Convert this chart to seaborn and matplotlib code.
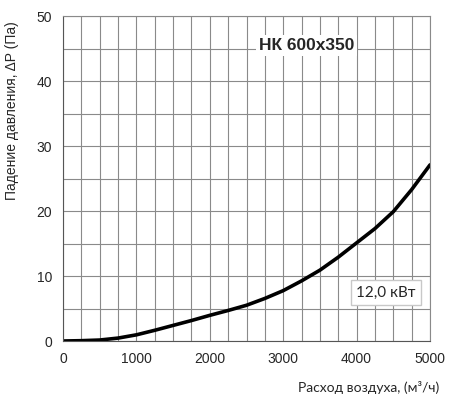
import numpy as np
import pandas as pd
import matplotlib
matplotlib.use("Agg")
import matplotlib.pyplot as plt
import seaborn as sns
from matplotlib.ticker import MultipleLocator

# расход воздуха (м3/ч) и падение давления (Па)
flow = [0, 250, 500, 750, 1000, 1250, 1500, 1750, 2000, 2250, 2500, 2750, 3000,
        3250, 3500, 3750, 4000, 4250, 4500, 4750, 5000]
dp = [0, 0.05, 0.15, 0.45, 0.95, 1.65, 2.4, 3.15, 3.95, 4.7, 5.5, 6.55, 7.75,
      9.25, 10.9, 12.9, 15.1, 17.3, 19.9, 23.3, 27.1]

title = "НК 600x350"
power_label = "12,0 кВт"
xlabel = "Расход воздуха, (м³/ч)"
ylabel = "Падение давления, ΔP (Па)"

df = pd.DataFrame({"flow": flow, "dp": dp})

sns.set_style("white")
plt.rcParams['font.family'] = ['Liberation Sans', 'DejaVu Sans']

fig = plt.figure(figsize=(4.5, 4.11), dpi=100)
ax = fig.add_axes([0.14, 0.1703, 0.8156, 0.7907])

sns.lineplot(data=df, x="flow", y="dp", color="black", linewidth=2.6, ax=ax)

ax.set_xlim(0, 5000)
ax.set_ylim(0, 50)
ax.xaxis.set_major_locator(MultipleLocator(1000))
ax.xaxis.set_minor_locator(MultipleLocator(250))
ax.yaxis.set_major_locator(MultipleLocator(10))
ax.yaxis.set_minor_locator(MultipleLocator(5))
ax.grid(which="both", color="#8a8a8a", linewidth=0.8)
ax.set_axisbelow(True)
for s in ax.spines.values():
    s.set_color("#8a8a8a")
    s.set_linewidth(0.8)
ax.spines["left"].set_color("#555555")
ax.spines["bottom"].set_color("#555555")
ax.tick_params(which="major", length=4, width=0.8, color="#555555", labelsize=10, pad=4)
ax.tick_params(which="minor", length=0)

ax.set_xlabel("")
ax.set_ylabel("")
fig.text(0.975, 0.056, xlabel, ha="right", va="center", fontsize=10,
         family=['Lato', 'DejaVu Sans'])
fig.text(0.027, 0.73, ylabel, ha="center", va="center", rotation=90, fontsize=10)

ax.text(3320, 45.5, title, ha="center", va="center", fontsize=12.5, fontweight="bold",
        bbox=dict(facecolor="white", edgecolor="none", pad=2))
ax.text(4400, 7.4, power_label, ha="center", va="center", fontsize=11,
        family=['Lato', 'DejaVu Sans'],
        bbox=dict(facecolor="white", edgecolor="#c8c8c8", pad=4))

fig.savefig("out.png", dpi=100)
